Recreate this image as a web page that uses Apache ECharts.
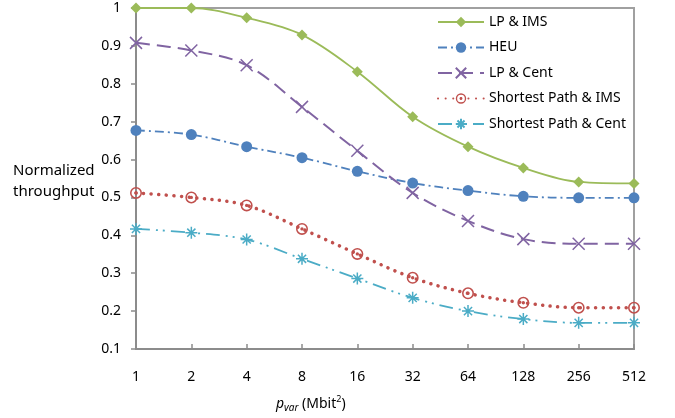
<!DOCTYPE html>
<html>
<head>
<meta charset="utf-8">
<script src="https://cdn.jsdelivr.net/npm/echarts@6/dist/echarts.min.js"></script>
<style>
  html, body { margin: 0; padding: 0; background: #fff; }
  #chart { width: 675px; height: 418px; }
</style>
</head>
<body>
<div id="chart"></div>
<script>
var categories = ['1', '2', '4', '8', '16', '32', '64', '128', '256', '512'];
var lpIms = [1.0, 1.0, 0.974, 0.929, 0.832, 0.713, 0.634, 0.578, 0.541, 0.537];
var heu = [0.677, 0.666, 0.634, 0.605, 0.569, 0.538, 0.518, 0.503, 0.499, 0.499];
var lpCent = [0.908, 0.888, 0.849, 0.739, 0.623, 0.512, 0.438, 0.39, 0.378, 0.378];
var spIms = [0.512, 0.5, 0.479, 0.417, 0.351, 0.288, 0.247, 0.222, 0.209, 0.209];
var spCent = [0.417, 0.407, 0.389, 0.338, 0.286, 0.235, 0.2, 0.179, 0.169, 0.169];
var yTicks = { min: 0.1, max: 1, interval: 0.1 };

var FONT = 'Noto Sans';
var xMark = 'path://M0,0L10,10M10,0L0,10';
var starMark = 'path://M5,0L5,10M0,5L10,5M1.6,1.6L8.4,8.4M8.4,1.6L1.6,8.4';
var ringMark = 'path://M0,5A5,5 0 1,1 10,5A5,5 0 1,1 0,5Z' +
    'M1.3,5A3.7,3.7 0 1,0 8.7,5A3.7,3.7 0 1,0 1.3,5Z' +
    'M3.6,5A1.4,1.4 0 1,1 6.4,5A1.4,1.4 0 1,1 3.6,5Z';

var myChart = echarts.init(document.getElementById('chart'));
var option = {
    animation: false,
    textStyle: { fontFamily: FONT },
    grid: {
        left: 136,
        right: 41,
        top: 8,
        bottom: 69,
        show: true,
        borderColor: '#a0a0a0',
        borderWidth: 2
    },
    legend: {
        orient: 'vertical',
        left: 432,
        top: 10,
        itemWidth: 46,
        itemHeight: 13,
        itemGap: 11.5,
        textStyle: { fontFamily: FONT, fontSize: 14, color: '#000' },
        data: ['LP & IMS', 'HEU', 'LP & Cent', 'Shortest Path & IMS', 'Shortest Path & Cent']
    },
    xAxis: {
        type: 'category',
        boundaryGap: false,
        data: categories,
        axisLine: { lineStyle: { color: '#8c8c8c', width: 2 } },
        axisTick: { inside: true, length: 5, lineStyle: { color: '#8c8c8c', width: 1.5 } },
        axisLabel: { margin: 21, fontSize: 14, color: '#000', fontFamily: FONT }
    },
    yAxis: {
        type: 'value',
        min: yTicks.min,
        max: yTicks.max,
        interval: yTicks.interval,
        splitLine: { show: false },
        axisLine: { show: true, lineStyle: { color: '#8c8c8c', width: 2 } },
        axisTick: { show: true, length: 5, lineStyle: { color: '#8c8c8c', width: 1.5 } },
        axisLabel: { margin: 15, fontSize: 14, color: '#000', fontFamily: FONT }
    },
    graphic: [
        {
            type: 'text',
            left: 13,
            top: 160,
            style: {
                text: 'Normalized\nthroughput',
                font: '15px "Noto Sans"',
                fill: '#000',
                lineHeight: 21
            }
        },
        {
            type: 'text',
            left: 276,
            top: 395,
            style: {
                text: '{p|p}{sub|var}{n| (Mbit}{sup|2}{n|)}',
                fill: '#000',
                rich: {
                    p: { fontSize: 14, fontStyle: 'italic', fontFamily: FONT, lineHeight: 18, verticalAlign: 'middle' },
                    sub: { fontSize: 10, fontStyle: 'italic', fontFamily: FONT, lineHeight: 18, verticalAlign: 'bottom' },
                    n: { fontSize: 14, fontFamily: FONT, lineHeight: 18, verticalAlign: 'middle' },
                    sup: { fontSize: 9, fontFamily: FONT, lineHeight: 18, verticalAlign: 'top' }
                }
            }
        }
    ],
    series: [
        {
            name: 'LP & IMS',
            type: 'line',
            smooth: 0.35,
            data: lpIms,
            symbol: 'diamond',
            symbolSize: 11,
            itemStyle: { color: '#9bbb59' },
            lineStyle: { color: '#9bbb59', width: 1.8 }
        },
        {
            name: 'HEU',
            type: 'line',
            smooth: 0.35,
            data: heu,
            symbol: 'circle',
            symbolSize: 11,
            itemStyle: { color: '#4f81bd' },
            lineStyle: { color: '#4f81bd', width: 1.8, type: [9, 4, 2, 4] }
        },
        {
            name: 'LP & Cent',
            type: 'line',
            smooth: 0.35,
            data: lpCent,
            symbol: xMark,
            symbolSize: 12,
            itemStyle: { color: '#8064a2', borderColor: '#8064a2', borderWidth: 1.5 },
            lineStyle: { color: '#8064a2', width: 2, type: [14, 7] }
        },
        {
            name: 'Shortest Path & IMS',
            type: 'line',
            smooth: 0.35,
            data: spIms,
            symbol: ringMark,
            symbolSize: 12,
            itemStyle: { color: '#c0504d' },
            lineStyle: { color: '#c0504d', width: 3.5, type: [0.1, 7.5], cap: 'round' }
        },
        {
            name: 'Shortest Path & Cent',
            type: 'line',
            smooth: 0.35,
            data: spCent,
            symbol: starMark,
            symbolSize: 12,
            itemStyle: { color: '#4bacc6', borderColor: '#4bacc6', borderWidth: 1.5 },
            lineStyle: { color: '#4bacc6', width: 1.8, type: [14, 6, 2, 5, 2, 6] }
        }
    ]
};
myChart.setOption(option);
</script>
</body>
</html>
